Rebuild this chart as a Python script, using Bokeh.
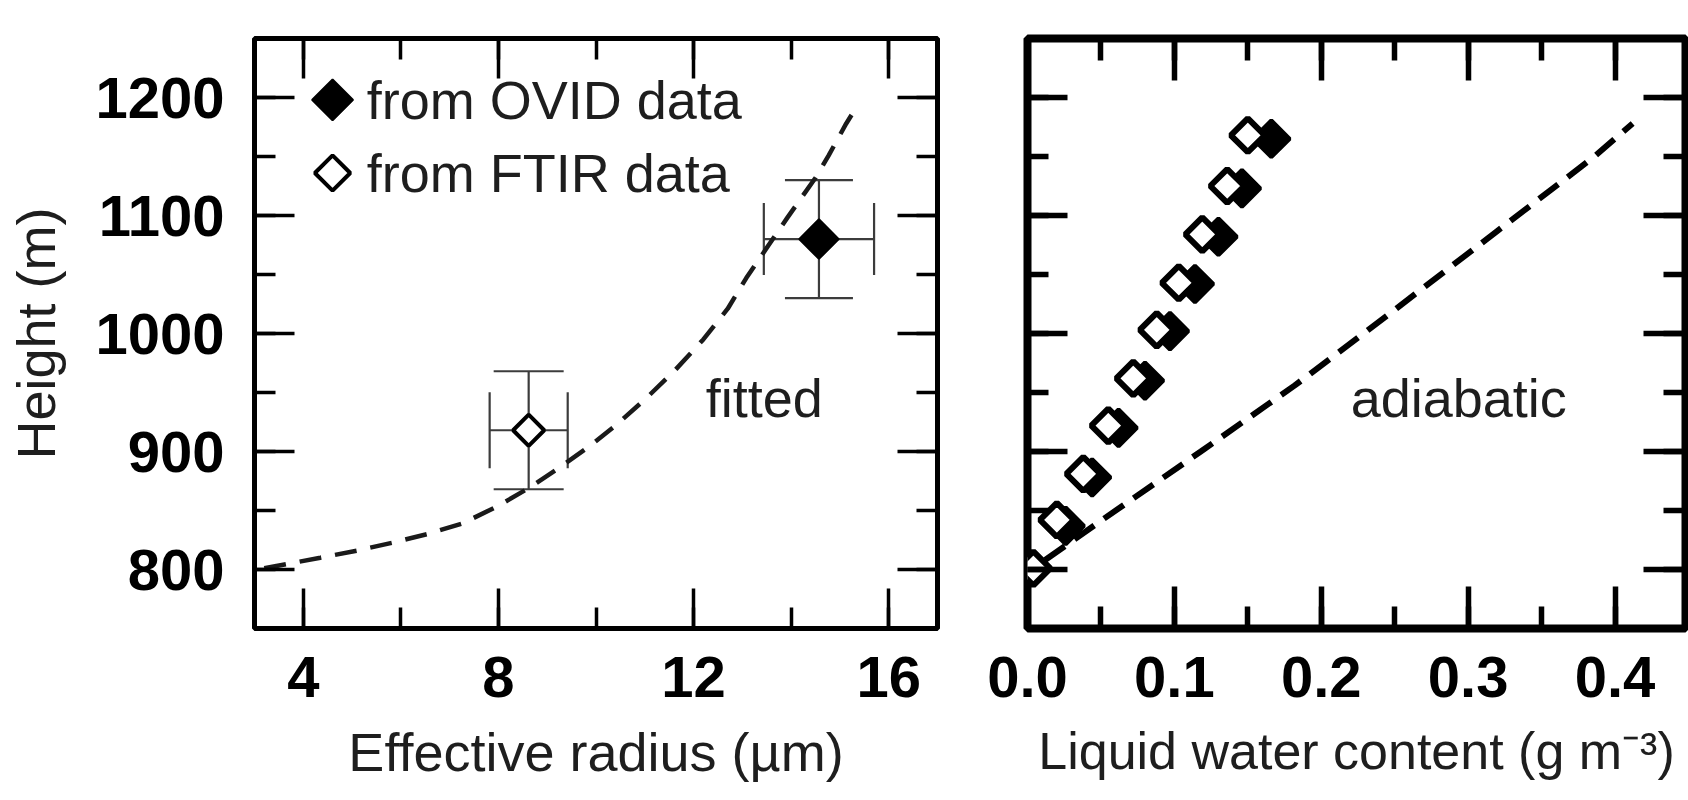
from math import pi
from bokeh.plotting import figure
from bokeh.layouts import row
from bokeh.models import (Range1d, LinearAxis, Whisker, TeeHead, ColumnDataSource,
                          Label, SingleIntervalTicker, PrintfTickFormatter)
from bokeh.embed import file_html
from bokeh.resources import INLINE
from bokeh.core.properties import value

# ---------------- data ----------------
# left panel: fitted effective-radius profile
fit_radius = [3.2, 4.35, 5.1, 5.86, 6.54, 7.26, 8.0, 8.66, 9.24, 9.85, 10.4, 11.0,
              11.6, 12.2, 12.7, 13.08, 13.54, 13.92, 14.5, 14.77, 15.13, 15.25]
fit_height = [801, 810, 816, 823, 830, 839, 854, 870, 886, 904, 922, 944,
              968, 995, 1021, 1047, 1075, 1098, 1132, 1151, 1178, 1186]

ovid_radius = [14.57]
ovid_height = [1080]
ovid_radius_err = [1.13]
ovid_height_err = [50]

ftir_radius = [8.62]
ftir_height = [918]
ftir_radius_err = [0.80]
ftir_height_err = [50]

series_names = ["from OVID data", "from FTIR data"]

# right panel: liquid water content profiles
open_lwc = [0.004, 0.020, 0.038, 0.055, 0.072, 0.088, 0.103, 0.119, 0.136, 0.150]
open_height = [801, 842, 881, 922, 962, 1003, 1043, 1084, 1125, 1168]
filled_lwc = [-0.003, 0.026, 0.044, 0.062, 0.080, 0.097, 0.114, 0.130, 0.146, 0.166]
filled_height = [803, 837, 878, 920, 960, 1002, 1042, 1082, 1123, 1165]

adiabatic_lwc = [0.012, 0.052, 0.118, 0.182, 0.251, 0.320, 0.386, 0.412]
adiabatic_height = [808, 843, 900, 956, 1021, 1087, 1150, 1178]

x_left_label = "Effective radius (µm)"
x_right_label = "Liquid water content (g m⁻³)"
y_label = "Height (m)"

# ---------------- style ----------------
FONT = "Liberation Sans"
TXT = "#1e1e1e"
EB = "#3c3c3c"
H = 800


def style_axis(ax, labels, maj, mnr, tw):
    ax.axis_line_color = None
    ax.major_tick_in = maj
    ax.major_tick_out = 0
    ax.minor_tick_in = mnr
    ax.minor_tick_out = 0
    ax.major_tick_line_width = tw
    ax.minor_tick_line_width = tw
    ax.major_tick_line_color = "black"
    ax.minor_tick_line_color = "black"
    if labels:
        ax.major_label_text_font = FONT
        ax.major_label_text_font_size = "58px"
        ax.major_label_text_font_style = "bold"
        ax.major_label_text_color = "black"
        ax.axis_label_text_font = FONT
        ax.axis_label_text_font_size = "54px"
        ax.axis_label_text_font_style = "normal"
        ax.axis_label_text_color = TXT
    else:
        ax.major_label_text_font_size = "1px"
        ax.major_label_text_color = None
        ax.major_label_standoff = 0


def make_fig(width, xr, bl, br, xtick, outline_w, tw, maj, mnr):
    p = figure(width=width, height=H, x_range=xr, y_range=Range1d(750, 1250),
               output_backend="svg", toolbar_location=None,
               min_border_left=bl, min_border_right=br,
               min_border_top=38, min_border_bottom=172,
               background_fill_color="white", border_fill_color="white")
    p.xgrid.grid_line_color = None
    p.ygrid.grid_line_color = None
    p.outline_line_color = "black"
    p.outline_line_width = outline_w
    p.outline_line_alpha = 1.0
    bottom = p.below[0]
    leftax = p.left[0]
    bottom.ticker = xtick
    leftax.ticker = SingleIntervalTicker(interval=100, num_minor_ticks=2)
    top = LinearAxis(ticker=xtick)
    right = LinearAxis(ticker=SingleIntervalTicker(interval=100, num_minor_ticks=2))
    p.add_layout(top, "above")
    p.add_layout(right, "right")
    style_axis(bottom, True, maj, mnr, tw)
    style_axis(top, False, maj, mnr, tw)
    style_axis(right, False, maj, mnr, tw)
    bottom.major_label_standoff = 28
    bottom.axis_label_standoff = 22
    return p, bottom, leftax


# ---------------- left panel ----------------
left, lbottom, lleft = make_fig(977, Range1d(3, 17), 254, 40,
                                SingleIntervalTicker(interval=4, num_minor_ticks=2),
                                5, 3.5, 40, 21)
style_axis(lleft, True, 40, 21, 3.5)
lleft.major_label_standoff = 30
lleft.axis_label = y_label
lleft.axis_label_standoff = 26
lbottom.axis_label = x_left_label

left.line(fit_radius, fit_height, line_dash="22 14", line_width=4.5, line_color="#1a1a1a")


def add_errorbars(p, xs, ys, xe, ye, vcap, hcap):
    src = ColumnDataSource(dict(
        x=xs, y=ys,
        ylo=[y - e for y, e in zip(ys, ye)], yhi=[y + e for y, e in zip(ys, ye)],
        xlo=[x - e for x, e in zip(xs, xe)], xhi=[x + e for x, e in zip(xs, xe)]))
    for dim, base, lo, hi, cap in (("height", "x", "ylo", "yhi", vcap),
                                   ("width", "y", "xlo", "xhi", hcap)):
        w = Whisker(source=src, base=base, lower=lo, upper=hi, dimension=dim,
                    line_color=EB, line_width=2.2, level="underlay",
                    upper_head=TeeHead(size=cap, line_color=EB, line_width=2.2),
                    lower_head=TeeHead(size=cap, line_color=EB, line_width=2.2))
        p.add_layout(w)


add_errorbars(left, ovid_radius, ovid_height, ovid_radius_err, ovid_height_err, 68, 72)
add_errorbars(left, ftir_radius, ftir_height, ftir_radius_err, ftir_height_err, 70, 76)

left.scatter(ovid_radius, ovid_height, marker="square", angle=pi / 4, size=28,
             fill_color="black", line_color="black", line_width=2)
left.scatter(ftir_radius, ftir_height, marker="square", angle=pi / 4, size=22,
             fill_color="white", line_color="black", line_width=4)

# legend (drawn by hand so the markers keep their diamond orientation)
leg_mx, leg_tx, leg_y = 4.6, 5.3, [1198, 1136]
left.scatter([leg_mx], [leg_y[0]], marker="square", angle=pi / 4, size=29,
             fill_color="black", line_color="black", line_width=2)
left.scatter([leg_mx], [leg_y[1]], marker="square", angle=pi / 4, size=25,
             fill_color="white", line_color="black", line_width=4)
left.text(x=[leg_tx, leg_tx], y=leg_y, text=series_names, text_font=value(FONT),
          text_font_size="54px", text_baseline="middle", text_color=TXT)

left.add_layout(Label(x=12.25, y=945, text="fitted", text_font=FONT,
                      text_font_size="54px", text_baseline="middle", text_color=TXT))

# ---------------- right panel ----------------
right, rbottom, rleft = make_fig(711, Range1d(0, 0.448), 50, 3,
                                 SingleIntervalTicker(interval=0.1, num_minor_ticks=2),
                                 8, 5.5, 42, 22)
style_axis(rleft, False, 40, 21, 5.5)
rbottom.formatter = PrintfTickFormatter(format="%.1f")
rbottom.axis_label = x_right_label
rbottom.axis_label_text_font_size = "52px"

right.line(adiabatic_lwc, adiabatic_height, line_dash="24 12", line_width=6, line_color="black")
right.scatter(filled_lwc, filled_height, marker="square", angle=pi / 4, size=26,
              fill_color="black", line_color="black", line_width=4)
right.scatter(open_lwc, open_height, marker="square", angle=pi / 4, size=24,
              fill_color="white", line_color="black", line_width=6)
right.add_layout(Label(x=0.220, y=945, text="adiabatic", text_font=FONT,
                       text_font_size="54px", text_baseline="middle", text_color=TXT))

layout = row(left, right)
open("out.html", "w").write(file_html(layout, INLINE))
